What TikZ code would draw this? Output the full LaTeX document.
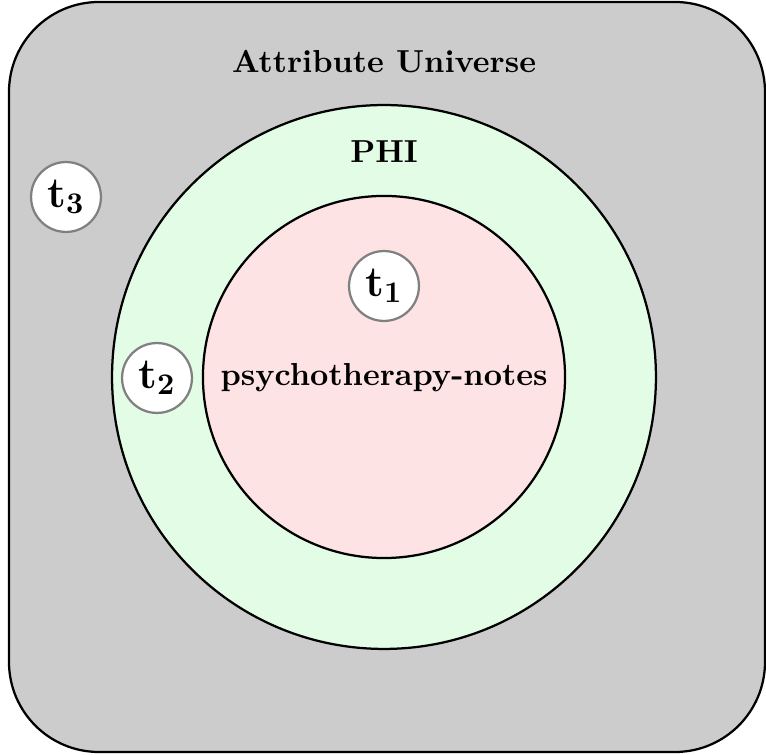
\documentclass[tikz,border=0pt]{standalone}
\usetikzlibrary{positioning}
\definecolor{unigray}{HTML}{CCCCCC}
\definecolor{phigreen}{HTML}{E3FCE5}
\definecolor{notespink}{HTML}{FDE3E4}
\definecolor{tokenedge}{HTML}{808080}
\begin{document}
\begin{tikzpicture}[x={(0.33333pt,0)},y={(0,-0.33333pt)},
  region/.style={circle,draw=black,line width=0.75pt,inner sep=0pt},
  token/.style={circle,draw=tokenedge,fill=white,line width=0.75pt,inner sep=0pt,minimum size=23.3pt,font=\Large},
  lbl/.style={font=\fontsize{10.6}{12}\selectfont\bfseries}]
\useasboundingbox (0,0) rectangle (766,755);
\node[draw=black,fill=unigray,line width=0.75pt,rounded corners=30pt,minimum width=252pt,minimum height=250pt,inner sep=0pt] (uni) at (387,377) {};
\node[region,fill=phigreen,minimum size=181.3pt] (phi) at (384,377) {};
\node[region,fill=notespink,minimum size=120.7pt] (notes) at (384,377) {};
\node[lbl] (unilbl) at (384,62) {Attribute Universe};
\node[lbl] (philbl) at (384,152) {PHI};
\node[lbl] (noteslbl) at (384,378) {psychotherapy-notes};
\node[token] (t1) at (384,286) {$\mathbf{t}_{\mathbf{1}}$};
\node[token] (t2) at (157,378) {$\mathbf{t}_{\mathbf{2}}$};
\node[token] (t3) at (66,197) {$\mathbf{t}_{\mathbf{3}}$};
\end{tikzpicture}
\end{document}
